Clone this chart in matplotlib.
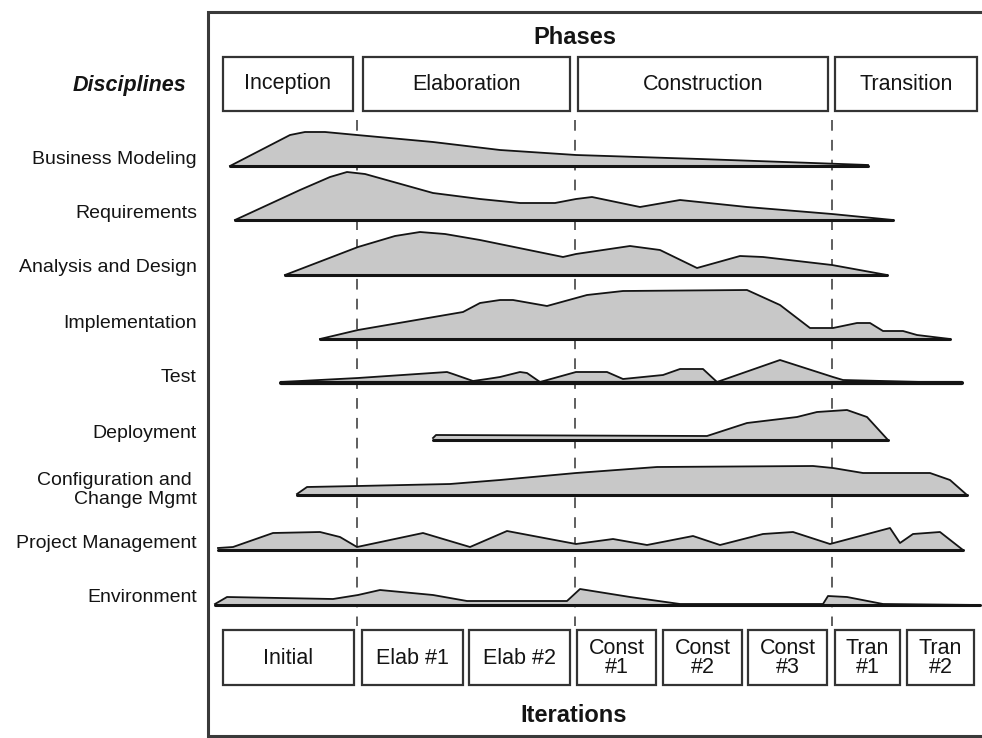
import matplotlib
matplotlib.use("Agg")
import matplotlib.pyplot as plt
from matplotlib.patches import Rectangle

plt.rcParams['font.family'] = ['Liberation Sans', 'DejaVu Sans']

# ---- categories
phases = ['Inception', 'Elaboration', 'Construction', 'Transition']
iterations = ['Initial', 'Elab #1', 'Elab #2', 'Const\n#1', 'Const\n#2',
              'Const\n#3', 'Tran\n#1', 'Tran\n#2']
disciplines = ['Business Modeling', 'Requirements', 'Analysis and Design',
               'Implementation', 'Test', 'Deployment',
               'Configuration and \nChange Mgmt', 'Project Management',
               'Environment']

# ---- effort profiles: time position along the project and effort height
bm_t = [230, 290, 305, 325, 357, 433, 500, 576, 700, 813, 868]
bm_h = [0, 31, 34, 34, 31, 24, 16, 11, 7, 3, 1]

req_t = [235, 300, 330, 347, 365, 433, 480, 520, 555, 576, 592, 640, 680,
         747, 832, 893]
req_h = [0, 30, 43, 48, 46, 27, 21, 17, 17, 21, 23, 13, 20, 13, 6, 0]

ad_t = [285, 358, 395, 420, 445, 480, 563, 576, 630, 660, 697, 740, 763, 832, 887]
ad_h = [0, 28, 39, 43, 41, 35, 18, 21, 29, 25, 7, 19, 18, 10, 0]

impl_t = [320, 358, 463, 480, 500, 513, 547, 587, 623, 747, 780, 810, 833,
          857, 870, 883, 903, 917, 950]
impl_h = [0, 9, 27, 36, 39, 39, 33, 44, 48, 49, 34, 11, 11, 16, 16, 8, 8, 4, 0]

test_t = [281, 358, 447, 453, 473, 487, 500, 520, 527, 540, 576, 607, 623,
          663, 680, 703, 717, 780, 833, 843, 962]
test_h = [1, 5, 11, 9, 2, 4, 6, 11, 10, 1, 11, 11, 4, 8, 14, 14, 1, 23, 6, 3, 0]

dep_t = [433, 436, 707, 747, 797, 817, 847, 867, 888]
dep_h = [2, 5, 4, 17, 23, 28, 30, 23, 0]

cm_t = [297, 307, 358, 450, 500, 576, 657, 813, 833, 863, 930, 950, 967]
cm_h = [1, 8, 9, 11, 15, 22, 28, 29, 27, 22, 22, 15, 0]

pm_t = [218, 233, 273, 320, 340, 357, 423, 470, 507, 576, 613, 647, 693,
        720, 763, 793, 830, 890, 900, 913, 940, 963]
pm_h = [2, 3, 17, 18, 13, 3, 17, 3, 19, 6, 11, 5, 14, 5, 16, 18, 6, 22, 7, 16, 18, 0]

env_t = [215, 227, 333, 358, 380, 433, 467, 567, 580, 630, 680, 823, 828,
         847, 883, 980]
env_h = [1, 8, 6, 10, 15, 10, 4, 4, 16, 8, 1, 1, 9, 8, 1, 0]

profiles = [(bm_t, bm_h), (req_t, req_h), (ad_t, ad_h), (impl_t, impl_h),
            (test_t, test_h), (dep_t, dep_h), (cm_t, cm_h), (pm_t, pm_h),
            (env_t, env_h)]

# ---- layout (pixel space)
row_base = [166, 220, 275, 339, 383, 440, 495, 550, 605]
row_label_y = [159, 214, 268, 323, 377, 433, 490, 544, 598]
phase_x0 = [223, 363, 578, 835]
phase_x1 = [353, 570, 828, 977]
iter_x0 = [223, 362, 469, 577, 663, 748, 835, 907]
iter_x1 = [354, 463, 570, 656, 742, 827, 900, 974]
milestones = [357, 575, 832]

fig = plt.figure(figsize=(9.82, 7.38), dpi=100)
ax = fig.add_axes([0, 0, 1, 1])
ax.set_xlim(0, 982)
ax.set_ylim(738, 0)
ax.axis('off')

ink = '#141414'

# frame
ax.plot([982, 208, 208, 982], [12, 12, 736, 736], color='#3a3a3a', lw=2.2,
        solid_joinstyle='miter')

ax.text(575, 38, 'Phases', ha='center', va='center', fontsize=17, fontweight='bold', color=ink)
ax.text(130, 85, 'Disciplines', ha='center', va='center', fontsize=15.5,
        fontweight='bold', fontstyle='italic', color=ink)
ax.text(574, 716, 'Iterations', ha='center', va='center', fontsize=17, fontweight='bold', color=ink)

for name, x0, x1 in zip(phases, phase_x0, phase_x1):
    ax.add_patch(Rectangle((x0, 57), x1 - x0, 54, fill=False, ec='#333333', lw=1.6))
    ax.text((x0 + x1) / 2, 84, name, ha='center', va='center', fontsize=15.5, color=ink)

for name, x0, x1 in zip(iterations, iter_x0, iter_x1):
    ax.add_patch(Rectangle((x0, 630), x1 - x0, 55, fill=False, ec='#333333', lw=1.6))
    ax.text((x0 + x1) / 2, 658, name, ha='center', va='center', fontsize=15.5,
            color=ink, linespacing=0.85)

for x in milestones:
    ax.plot([x, x], [120, 626], color='#333333', lw=1.1, dashes=(7, 6))

for i, (name, (t, h)) in enumerate(zip(disciplines, profiles)):
    base = row_base[i]
    top = [base - v for v in h]
    ax.fill(t + t[::-1], top + [base] * len(t), fc='#c8c8c8', ec='none', zorder=2)
    ax.plot(t, top, color=ink, lw=1.3, zorder=3, solid_joinstyle='round')
    ax.plot([t[0], t[-1]], [base, base], color=ink, lw=3 if name == 'Test' else 2.2,
            solid_capstyle='round', zorder=3)
    ax.text(197, row_label_y[i], name, ha='right', va='center', fontsize=14,
            color=ink, linespacing=1.2)

fig.savefig('out.png', dpi=100)
